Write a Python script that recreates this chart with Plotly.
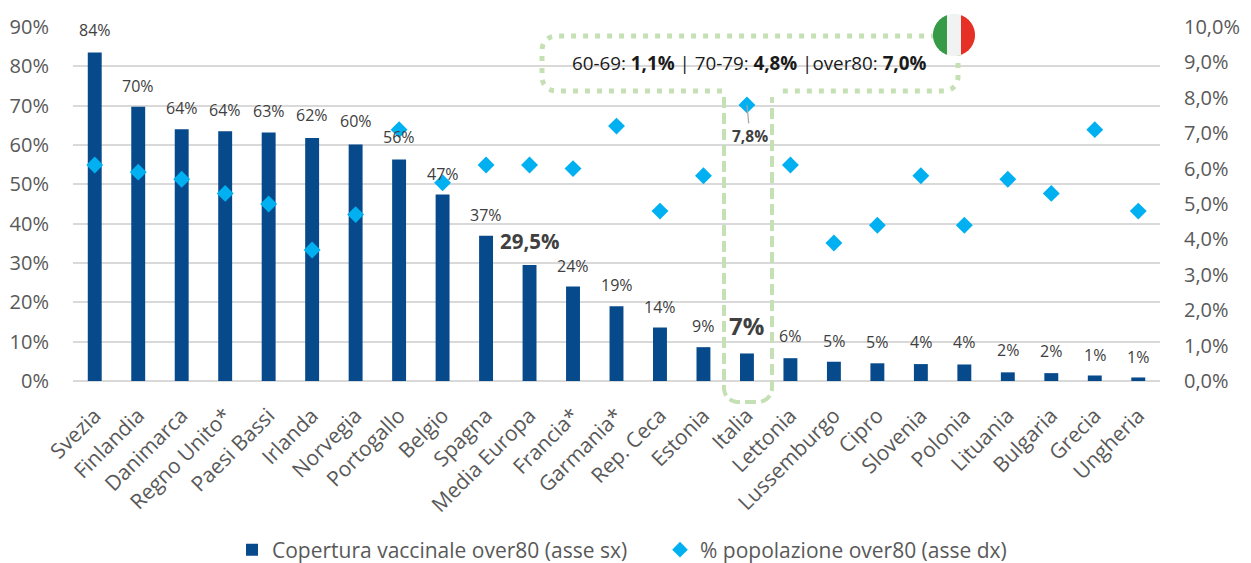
import numpy as np
import plotly.graph_objects as go

categories = ["Svezia","Finlandia","Danimarca","Regno Unito*","Paesi Bassi","Irlanda","Norvegia","Portogallo","Belgio","Spagna","Media Europa","Francia*","Garmania*","Rep. Ceca","Estonia","Italia","Lettonia","Lussemburgo","Cipro","Slovenia","Polonia","Lituania","Bulgaria","Grecia","Ungheria"]
coverage = [83.5,69.7,64.0,63.5,63.2,61.8,60.1,56.3,47.4,36.9,29.5,24.0,19.0,13.6,8.6,7.0,5.8,4.9,4.5,4.3,4.2,2.2,2.0,1.4,0.9]
coverage_labels = ["84%","70%","64%","64%","63%","62%","60%","56%","47%","37%","29,5%","24%","19%","14%","9%","7%","6%","5%","5%","4%","4%","2%","2%","1%","1%"]
population = [6.1,5.9,5.7,5.3,5.0,3.7,4.7,7.1,5.6,6.1,6.1,6.0,7.2,4.8,5.8,7.8,6.1,3.9,4.4,5.8,4.4,5.7,5.3,7.1,4.8]
left_ticks = [0,10,20,30,40,50,60,70,80,90]
left_tick_labels = ["0%","10%","20%","30%","40%","50%","60%","70%","80%","90%"]
right_ticks = [0,1,2,3,4,5,6,7,8,9,10]
right_tick_labels = ["0,0%","1,0%","2,0%","3,0%","4,0%","5,0%","6,0%","7,0%","8,0%","9,0%","10,0%"]

W, H = 1251, 563
BODY = 8  # the page's own margin
L, R, T, B = 73, 1160, 27, 381
FONT = "Open Sans"
GREY = "#595959"
DARK = "#404040"
GREEN = "#C5E0B4"

def px(x): return (x - L) / (R - L)
def py(y): return (B - y) / (B - T)

def path(points, close=False):
    s = "M" + " L".join(f"{px(x):.5f},{py(y):.5f}" for x, y in points)
    return s + (" Z" if close else "")

def arc(cx, cy, r, a0, a1, n=10):
    return [(cx + r*np.cos(np.radians(a)), cy + r*np.sin(np.radians(a))) for a in np.linspace(a0, a1, n)]

fig = go.Figure()
fig.add_trace(go.Bar(x=categories, y=coverage, name="Copertura vaccinale over80 (asse sx)",
                     marker=dict(color="#064A8C", line=dict(width=0)), yaxis="y"))
fig.add_trace(go.Scatter(x=categories, y=population, mode="markers", name="% popolazione over80 (asse dx)",
                         marker=dict(symbol="diamond", size=13, color="#00B0F0"), yaxis="y2"))

ann = []
for c, v, t in zip(categories, coverage, coverage_labels):
    big = t in ("29,5%", "7%")
    size = {"29,5%": 20.5, "7%": 24}.get(t, 16)
    shift = {"7%": 28, "29,5%": 24, "6%": 22, "5%": 21, "4%": 22, "2%": 22, "1%": 20, "84%": 23, "62%": 23, "60%": 24, "56%": 23}.get(t, 21)
    ann.append(dict(x=c, y=v, xref="x", yref="y", text=f"<b>{t}</b>" if big else t, showarrow=False,
                    yanchor="middle", yshift=shift,
                    font=dict(family=FONT, size=size, color=DARK)))
ann.append(dict(x="Italia", y=7.8, xref="x", yref="y2", text="<b>7,8%</b>", showarrow=True, arrowhead=0,
                arrowwidth=1.2, arrowcolor="#A6A6A6", ax=3, ay=31, standoff=0,
                font=dict(family=FONT, size=15.5, color=DARK)))
ann.append(dict(x=px(749), y=py(63), xref="paper", yref="paper", showarrow=False, xanchor="center", yanchor="middle",
                text="60-69: <b>1,1%</b> | 70-79: <b>4,8%</b> |over80: <b>7,0%</b>",
                font=dict(family=FONT, size=18.8, color="#1a1a1a")))

shapes = []
box = [(722,91),(556,91)] + arc(556,77,14,90,180)[1:] + arc(556,50,14,180,270) + arc(944,50,14,270,360) + arc(944,77,14,0,90) + [(778,91)]
shapes.append(dict(type="path", xref="paper", yref="paper", path=path(box), line=dict(color=GREEN, width=5, dash="5px,7px"), layer="above"))
strip = [(724,97)] + arc(738,388,14,180,90) + arc(758,388,14,90,0) + [(772,97)]
shapes.append(dict(type="path", xref="paper", yref="paper", path=path(strip), line=dict(color=GREEN, width=4, dash="11px,5px"), layer="above"))
cx, cy, r = 954, 35, 21
a = np.degrees(np.arccos(7/r))
shapes.append(dict(type="path", xref="paper", yref="paper", path=path(arc(cx,cy,r,180-a,180+a,30), True), fillcolor="#369A46", line=dict(width=0), layer="above"))
shapes.append(dict(type="path", xref="paper", yref="paper", path=path(arc(cx,cy,r,-a,a,30), True), fillcolor="#E63026", line=dict(width=0), layer="above"))
shapes.append(dict(type="path", xref="paper", yref="paper", path=path(arc(cx,cy,r,a,180-a,12)+arc(cx,cy,r,180+a,360-a,12), True), fillcolor="#F1F2F2", line=dict(width=0), layer="above"))

fig.update_layout(
    width=W-BODY, height=H-BODY, autosize=False,
    margin=dict(l=L-BODY, r=W-R, t=T-BODY, b=H-B, pad=0, autoexpand=False),
    paper_bgcolor="white", plot_bgcolor="white",
    bargap=0.68,
    showlegend=True,
    legend=dict(orientation="h", x=px(232), y=py(550), xanchor="left", yanchor="middle",
                entrywidth=383, entrywidthmode="pixels",
                font=dict(family=FONT, size=21, color=GREY), itemsizing="constant", traceorder="normal"),
    xaxis=dict(type="category", categoryorder="array", categoryarray=categories, range=[-0.5, 24.5], tickangle=-45, automargin=False,
               tickfont=dict(family=FONT, size=21, color=GREY), showgrid=False, zeroline=False, showline=False,
               ticks="outside", ticklen=13, tickcolor="rgba(0,0,0,0)"),
    yaxis=dict(range=[0,90], tickmode="array", tickvals=left_ticks, ticktext=left_tick_labels, gridcolor="#D9D9D9", gridwidth=2,
               zeroline=True, zerolinecolor="#D9D9D9", zerolinewidth=2, automargin=False,
               tickfont=dict(family=FONT, size=20, color=GREY), ticks="outside", ticklen=19, tickcolor="rgba(0,0,0,0)"),
    yaxis2=dict(range=[0,10], tickmode="array", tickvals=right_ticks, ticktext=right_tick_labels, overlaying="y", side="right",
                showgrid=False, zeroline=False, automargin=False,
                tickfont=dict(family=FONT, size=20, color=GREY), ticks="outside", ticklen=19, tickcolor="rgba(0,0,0,0)"),
    annotations=ann, shapes=shapes,
)
fig.write_html("out.html")
